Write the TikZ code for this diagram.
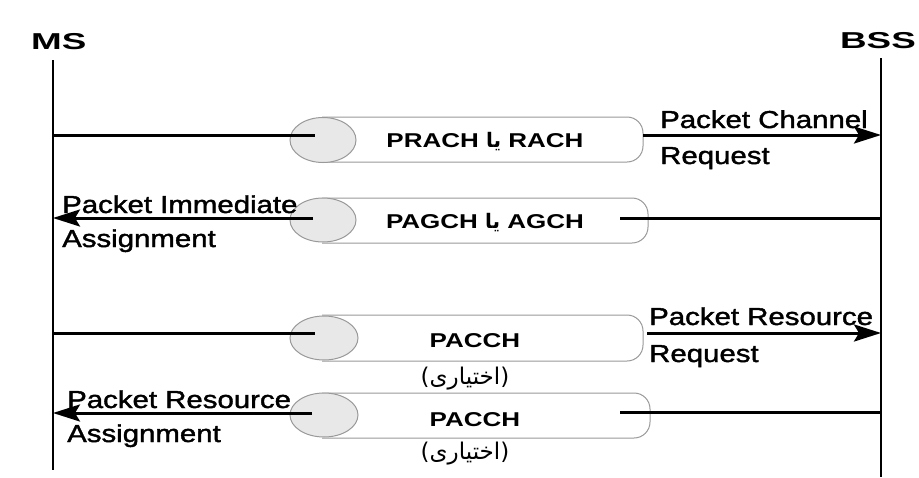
\documentclass[tikz,border=0pt]{standalone}
\usepackage{fontspec}
\usetikzlibrary{arrows.meta}
\TeXXeTstate=1
\newfontfamily\hdrfont[FakeStretch=1.6]{Liberation Sans Bold}
\newfontfamily\labfont[FakeStretch=1.2,FakeBold=1.6]{Liberation Sans}
\newfontfamily\chfont[FakeStretch=1.3]{Liberation Sans Bold}
\newfontfamily\arabicfont[Script=Arabic]{DejaVu Sans}
\newfontfamily\arabicbf[Script=Arabic]{DejaVu Sans Bold}
\tikzset{
  lifeline/.style={line width=2.4pt, black},
  msg/.style={line width=3pt, black},
  msgarrow/.style={msg, -{Stealth[length=27pt, width=17pt, inset=5pt]}},
  pipebody/.style={draw=gray!80, line width=1pt, fill=white, rounded corners=16pt},
  pipeend/.style={draw=gray!80, line width=1pt, fill=gray!18},
  hdr/.style={font=\hdrfont\fontsize{23}{26}\selectfont, inner sep=0pt},
  lab/.style={font=\labfont\fontsize{24.5}{28}\selectfont, inner sep=0pt, anchor=base west},
  ch/.style={font=\chfont\fontsize{20}{24}\selectfont, inner sep=0pt, anchor=base},
  opt/.style={font=\arabicfont\fontsize{23}{26}\selectfont, inner sep=0pt},
}
\newcommand{\ya}{{\arabicbf\fontsize{20}{24}\selectfont\beginR یا\endR}}
\newcommand{\ekhtiari}{\beginR(اختیاری)\endR}
\begin{document}
\begin{tikzpicture}[x=1pt,y=-1pt]
\useasboundingbox (0,0) rectangle (919,477);
% headers
\node[hdr, anchor=base west] (ms) at (31,49) {MS};
\node[hdr, anchor=base east] (bss) at (916,48) {BSS};
% lifelines
\coordinate (msTop) at (53,60);
\coordinate (msBot) at (53,470);
\coordinate (bssTop) at (881,58);
\coordinate (bssBot) at (881,477);
\draw[lifeline] (msTop) -- (msBot);
\draw[lifeline] (bssTop) -- (bssBot);
% pipe 1
\path[pipebody] (322,117) -- (643,117) -- (643,162) -- (322,162);
\path[pipeend] (323,140) ellipse [x radius=33, y radius=22.5];
% pipe 2
\path[pipebody] (322,198) -- (648,198) -- (648,243) -- (322,243);
\path[pipeend] (323,220) ellipse [x radius=33, y radius=22];
% pipe 3
\path[pipebody] (322,315) -- (643,315) -- (643,361) -- (322,361);
\path[pipeend] (324,338) ellipse [x radius=34, y radius=22];
% pipe 4
\path[pipebody] (322,393) -- (650,393) -- (650,438) -- (322,438);
\path[pipeend] (324,415) ellipse [x radius=34, y radius=22];
% pipe texts
\node[ch] (c1) at (485,147) {PRACH \ya{} RACH};
\node[ch] (c2) at (485,228) {PAGCH \ya{} AGCH};
\node[ch] (c3) at (475,347) {PACCH};
\node[opt] (o3) at (465,379) {\ekhtiari};
\node[ch] (c4) at (475,426) {PACCH};
\node[opt] (o4) at (465,454) {\ekhtiari};
% message coordinates
\coordinate (ms1) at (53,135);  \coordinate (p1l) at (315,135);
\coordinate (p1r) at (643,135); \coordinate (bss1) at (881,135);
\coordinate (bss2) at (881,218); \coordinate (p2r) at (620,218);
\coordinate (p2l) at (313,218); \coordinate (ms2) at (53,218);
\coordinate (ms3) at (53,333);  \coordinate (p3l) at (315,333);
\coordinate (p3r) at (647,333); \coordinate (bss3) at (881,333);
\coordinate (bss4) at (881,412); \coordinate (p4r) at (620,412);
\coordinate (p4l) at (312,413); \coordinate (ms4) at (53,413);
% messages
\draw[msg] (ms1) -- (p1l);
\draw[msgarrow] (p1r) -- (bss1);
\draw[msg] (bss2) -- (p2r);
\draw[msgarrow] (p2l) -- (ms2);
\draw[msg] (ms3) -- (p3l);
\draw[msgarrow] (p3r) -- (bss3);
\draw[msg] (bss4) -- (p4r);
\draw[msgarrow] (p4l) -- (ms4);
% labels
\node[lab] (l1a) at (660,128) {Packet Channel};
\node[lab] (l1b) at (660,164) {Request};
\node[lab] (l2a) at (62,213) {Packet Immediate};
\node[lab] (l2b) at (62,247) {Assignment};
\node[lab] (l3a) at (649,325) {Packet Resource};
\node[lab] (l3b) at (649,362) {Request};
\node[lab] (l4a) at (67,408) {Packet Resource};
\node[lab] (l4b) at (67,442) {Assignment};
\end{tikzpicture}
\end{document}
